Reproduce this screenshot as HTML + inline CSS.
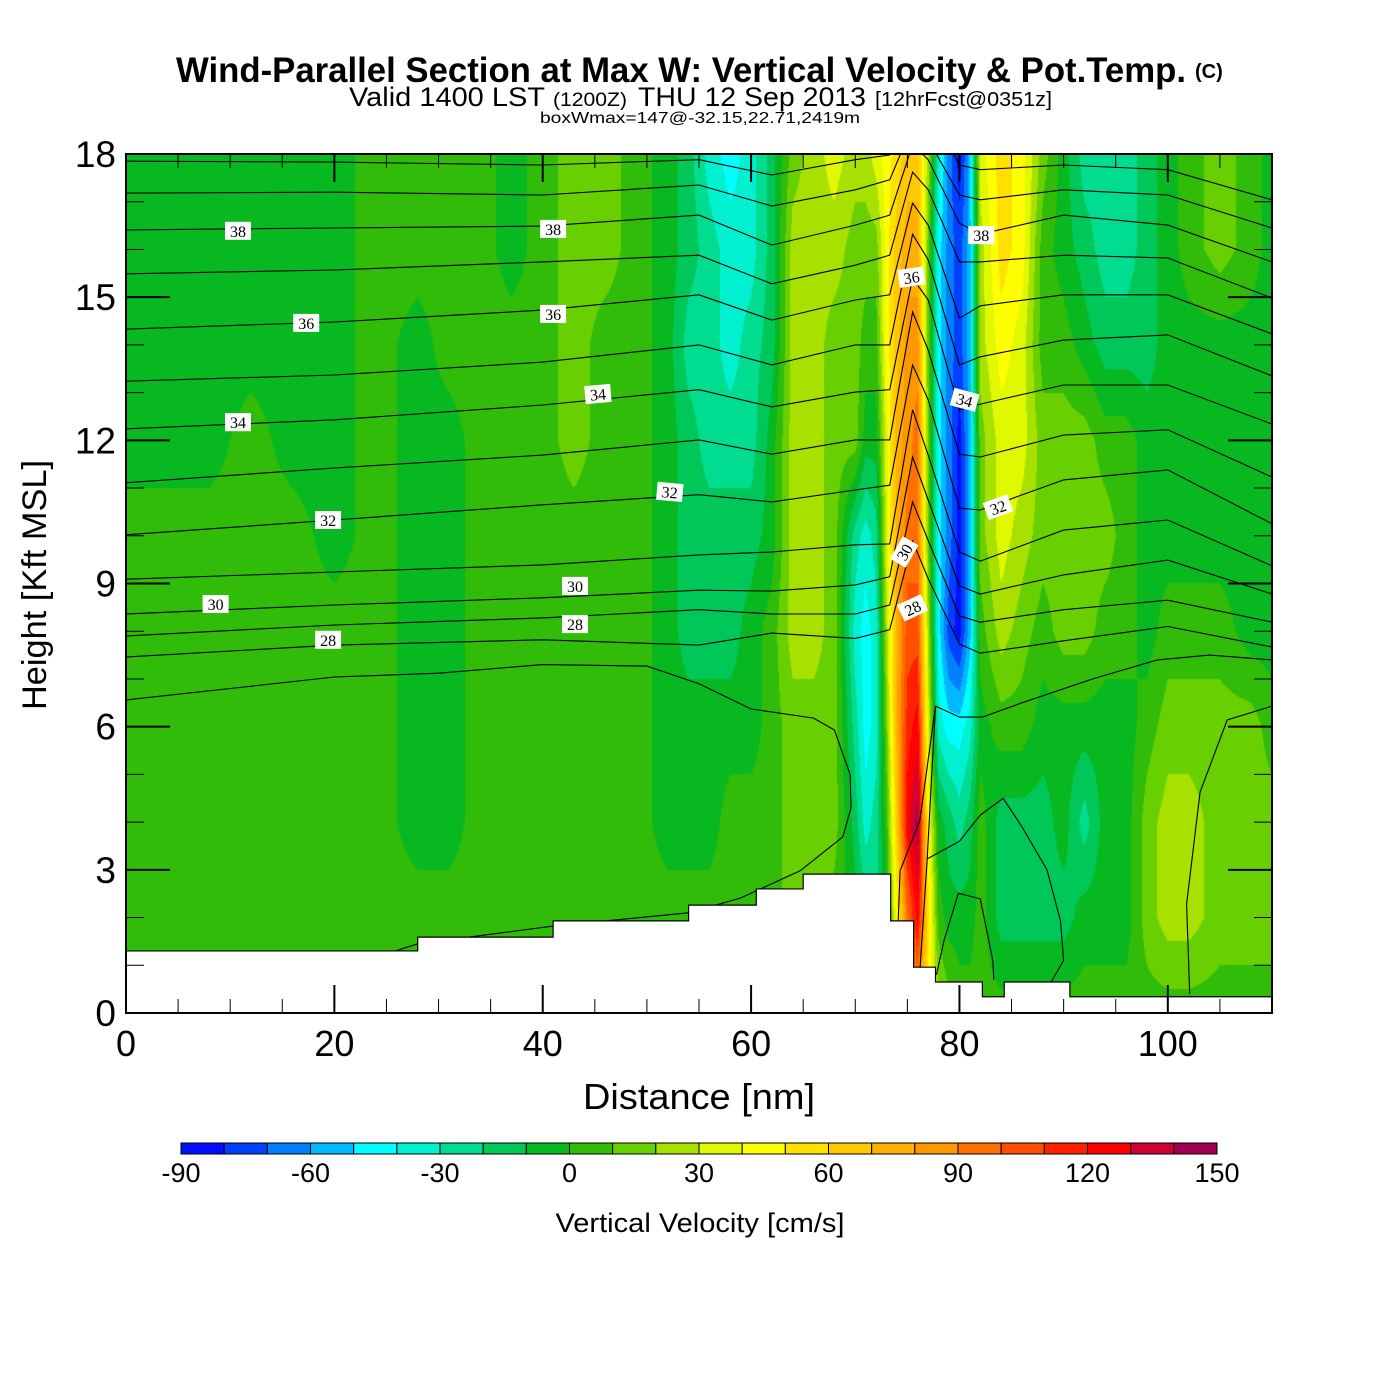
<!DOCTYPE html>
<html><head><meta charset="utf-8">
<style>
html,body{margin:0;padding:0;background:#fff;}
#wrap{position:relative;width:1400px;height:1400px;overflow:hidden;background:#fff;font-family:"Liberation Sans",sans-serif;}
#field{position:absolute;left:126px;top:154px;}
#ov{position:absolute;left:0;top:0;}
</style></head>
<body>
<div id="wrap">
<canvas id="field" width="1146" height="859"></canvas>
<svg id="ov" width="1400" height="1400" xmlns="http://www.w3.org/2000/svg">
  <defs><clipPath id="pc"><rect x="126" y="154" width="1146" height="859"/></clipPath></defs>
  <g id="contours" clip-path="url(#pc)"></g>
  <g id="terrain"></g>
  <g id="clabels"></g>
  <g id="axes"></g>
  <g id="cbar"></g>
  <g>
    <text x="176" y="82" font-size="35" font-weight="bold" textLength="1010" lengthAdjust="spacingAndGlyphs">Wind-Parallel Section at Max W: Vertical Velocity &amp; Pot.Temp.</text>
    <text x="1195" y="78" font-size="20" font-weight="bold">(C)</text>
    <text x="349" y="106" font-size="27" textLength="196" lengthAdjust="spacingAndGlyphs">Valid 1400 LST</text>
    <text x="553" y="106" font-size="19" textLength="74" lengthAdjust="spacingAndGlyphs">(1200Z)</text>
    <text x="638" y="106" font-size="27" textLength="228" lengthAdjust="spacingAndGlyphs">THU 12 Sep 2013</text>
    <text x="875" y="106" font-size="20" textLength="177" lengthAdjust="spacingAndGlyphs">[12hrFcst@0351z]</text>
    <text x="540" y="123" font-size="16" textLength="320" lengthAdjust="spacingAndGlyphs">boxWmax=147@-32.15,22.71,2419m</text>
    <text x="699" y="1109" font-size="36" text-anchor="middle" textLength="232" lengthAdjust="spacingAndGlyphs">Distance [nm]</text>
    <text transform="translate(46,585) rotate(-90)" font-size="34" text-anchor="middle" textLength="250" lengthAdjust="spacingAndGlyphs">Height [Kft MSL]</text>
    <text x="700" y="1232" font-size="27" text-anchor="middle" textLength="289" lengthAdjust="spacingAndGlyphs">Vertical Velocity [cm/s]</text>
  </g>
</svg>
</div>
<script>
// ---------- DATA ----------
const xNodes = [0,4,8,12,16,20,24,28,31,34,37,40,43,46,49,52,54,56,58,60,62,64,66,68,70,71,72,73,74,75,76,77,78,79,80,81,82,84,86,88,90,92,94,96,98,100,102,105,108,110];
const hNodes = [0,2,4,6,8,10,12,14,16,18];
// vertical velocity (cm/s) per column, bottom (0 kft) to top (18 kft)
const wValues = [
[5,5,5,5,5,5,-5,-5,-5,-5],
[5,5,5,5,5,5,-5,-5,-5,-5],
[5,5,5,5,5,5,-5,-5,-5,-5],
[5,5,5,5,5,5,5,-5,-5,-5],
[5,5,5,5,5,5,-5,-5,-5,-5],
[5,5,5,5,5,-5,-5,-5,-5,-5],
[5,5,5,5,5,5,5,5,5,5],
[5,5,-5,-5,-5,-5,-5,-5,5,5],
[5,5,-5,-5,-5,-5,-5,5,5,5],
[5,5,5,5,5,5,5,5,5,5],
[5,5,5,5,5,5,5,5,-5,-5],
[5,5,5,5,5,5,5,5,5,5],
[5,5,5,5,5,5,15,15,15,15],
[5,5,5,5,5,5,5,5,15,15],
[5,5,5,5,5,5,5,5,5,5],
[5,5,-5,-5,-5,-5,-5,-5,-5,-5],
[5,5,-5,-5,-15,-15,-15,-25,-15,-15],
[5,5,-5,-5,-15,-15,-25,-25,-25,-35],
[5,5,5,-5,-15,-15,-25,-35,-35,-45],
[5,5,5,-5,-5,-15,-25,-25,-35,-35],
[5,5,5,5,5,-5,-5,-15,-15,-15],
[5,15,15,15,25,25,25,25,25,15],
[5,15,15,15,25,25,25,25,25,25],
[5,5,15,15,15,15,15,15,25,35],
[5,-5,-15,-25,-35,-25,15,15,15,25],
[5,-15,-35,-45,-45,-35,-5,5,15,25],
[5,-25,-25,-35,-35,-25,-5,5,15,35],
[5,-5,5,15,25,35,35,45,45,45],
[15,45,65,75,75,75,75,65,65,55],
[45,95,125,115,105,95,85,85,75,65],
[75,125,145,125,105,95,95,85,75,65],
[45,55,45,35,25,15,15,15,15,25],
[25,5,-5,-35,-45,-45,-45,-45,-45,-35],
[15,-5,-15,-45,-75,-65,-65,-65,-65,-65],
[5,-5,-25,-45,-85,-85,-85,-75,-75,-85],
[5,-5,-15,-35,-55,-55,-55,-55,-55,-55],
[5,5,5,-5,5,15,15,25,25,35],
[5,-15,-15,5,25,35,35,45,55,55],
[5,-15,-15,5,15,25,35,35,45,45],
[5,-15,-15,-5,5,15,15,5,5,15],
[5,-15,-5,-5,15,15,15,5,-5,-5],
[5,-5,-25,-5,15,15,15,-5,-15,-25],
[5,-5,-5,-5,5,15,5,-15,-25,-25],
[5,-5,-5,-5,5,5,5,-15,-25,-25],
[5,15,15,5,-5,-5,-5,-15,-15,-15],
[5,25,25,15,5,-5,-5,-5,-5,-5],
[5,25,25,15,5,-5,-5,-5,5,5],
[5,15,15,15,5,-5,-5,-5,15,15],
[5,15,15,15,-5,-5,-5,-5,5,5],
[5,15,15,5,-5,-5,-5,-5,-5,-5]
];
const colorLevels = [-90,-80,-70,-60,-50,-40,-30,-20,-10,0,10,20,30,40,50,60,70,80,90,100,110,120,130,140,150];
const colorFills = ["#0010ff","#0040ff","#0080ff","#00b8ff","#00ffff","#00f0d0","#00dc90","#00c858","#08b820","#30bc08","#68d000","#a8e000","#e0f800","#ffff00","#ffe000","#ffc800","#ffb000","#ff9800","#ff7000","#ff5000","#ff2000","#ff0000","#d00030","#a00050"];
const cbarTickValues = [-90,-60,-30,0,30,60,90,120,150];
const xTickValues = [0,20,40,60,80,100];
const yTickValues = [0,3,6,9,12,15,18];
// potential temperature contours (height kft at thetaXs)
const thetaXs = [0,20,40,55,62,70,73.3,75.5,77,80,82,90,100,110];
const thetaValues = [28,29,30,31,32,33,34,35,36,37,38,39,40];
const thetaHeights = [
[7.46,7.71,7.82,7.71,7.96,7.85,8.03,9.89,9.1,7.73,7.54,7.8,8.1,7.67],
[7.90,8.13,8.28,8.45,8.36,8.36,8.55,10.71,9.9,8.32,8.19,8.45,8.65,8.19],
[8.36,8.55,8.70,8.86,8.84,8.97,9.14,11.65,10.75,8.95,8.78,9.18,9.49,8.78],
[9.09,9.24,9.39,9.60,9.66,9.81,9.83,12.64,11.69,9.66,9.47,10.12,10.33,9.37],
[10.02,10.33,10.65,10.86,10.71,10.96,11.06,13.58,12.85,10.58,10.54,11.17,11.38,10.25],
[11.11,11.42,11.69,12.01,11.71,12.01,12.01,14.69,13.89,11.71,11.65,12.11,12.22,11.23],
[12.24,12.43,12.74,13.06,12.70,13.01,13.06,15.40,14.94,12.64,12.76,13.16,13.16,12.34],
[13.24,13.37,13.64,14.00,13.58,14.00,14.00,16.32,15.78,13.58,13.75,14.10,14.21,13.35],
[14.33,14.48,14.73,15.05,14.52,14.94,15.05,16.97,16.51,14.56,14.82,15.05,15.05,14.23],
[15.49,15.57,15.74,15.88,15.28,15.67,15.88,17.62,17.25,15.74,15.74,15.88,15.82,14.98],
[16.41,16.45,16.49,16.72,16.09,16.51,16.72,18.2,17.88,16.55,16.32,16.72,16.51,15.74],
[17.18,17.20,17.14,17.35,16.91,17.25,17.46,18.6,18.3,17.14,17.04,17.25,17.14,16.45],
[17.85,17.83,17.77,17.88,17.56,17.88,17.98,19.0,19.0,17.77,17.67,17.77,17.67,17.04]
];
// theta 27 K contour (irregular shape) and other low-level loops
const theta27X = [0,10,20,30,40,50,55,60,66,68,69.5,69.6,68.8,64.7,59,54,41,28,24];
const theta27H = [6.56,6.8,7.04,7.12,7.3,7.27,6.9,6.37,6.18,5.93,5.0,4.3,3.69,2.98,2.41,2.1,1.82,1.45,1.17];
const coreLoopX = [77.7,76.2,74.3,74.1,74.2];
const coreLoopH = [6.43,4.04,2.98,1.82,1.7];
const coreInnerX = [77.7,76.9,76.2,76.1];
const coreInnerH = [6.43,3.23,0.88,0.7];
const rightLine27X = [77.7,80,82.2,86,92.8,99,104,110];
const rightLine27H = [6.43,6.2,6.2,6.5,7.0,7.4,7.5,7.4];
const loopBX = [77.8,78.5,79.9,82,83.2,83.3];
const loopBH = [0.8,1.5,2.51,2.39,1.1,0.7];
const loopCX = [76.9,80,82,84.2,86,88.4,89.7,90,88.4];
const loopCH = [3.23,3.6,4.15,4.5,3.9,3.0,1.93,1.1,0.5];
const loopDX = [102.1,101.8,103.1,105.7,110];
const loopDH = [0.4,2.28,4.63,6.14,6.43];
// contour labels
const labelText = ["38","38","38","36","36","36","34","34","34","32","32","32","30","30","30","28","28","28"];
const labelX = [10.75,41.0,82.1,17.3,41.0,75.4,10.75,45.3,80.5,19.4,52.2,83.7,8.6,43.1,74.7,19.4,43.1,75.5];
const labelH = [16.39,16.43,16.30,14.46,14.65,15.42,12.38,12.97,12.85,10.33,10.92,10.60,8.57,8.95,9.66,7.82,8.15,8.49];
const labelRot = [0,0,0,0,0,-8,0,-5,15,0,5,-20,0,0,-60,0,0,-25];
// terrain steps
const terrainX = [0,28,41,54,60.5,65,73.4,75.6,77.7,82.2,84.3,90.6,110];
const terrainH = [1.30,1.59,1.93,2.26,2.60,2.91,1.93,0.96,0.65,0.34,0.65,0.34];

// ---------- AXES ----------
const PX0=126, PY0=1013, PW=1146, PH=859, XMAX=110, HMAX=18;
function sx(x){return PX0 + x/XMAX*PW;}
function sy(h){return PY0 - h/HMAX*PH;}
const NS="http://www.w3.org/2000/svg";
function mk(tag, attrs, parent){const e=document.createElementNS(NS,tag);for(const k in attrs)e.setAttribute(k,attrs[k]);parent.appendChild(e);return e;}

// ---------- FIELD ----------
function colorFor(v){let i=Math.floor((v-colorLevels[0])/10);if(i<0)i=0;if(i>23)i=23;return colorFills[i];}
function hexRGB(h){return [parseInt(h.substr(1,2),16),parseInt(h.substr(3,2),16),parseInt(h.substr(5,2),16)];}
const rgbs = colorFills.map(hexRGB);
function wAt(x,h){
  let i=0; while(i<xNodes.length-2 && x>xNodes[i+1]) i++;
  const t=(x-xNodes[i])/(xNodes[i+1]-xNodes[i]);
  let j=Math.floor(h/2); if(j>hNodes.length-2) j=hNodes.length-2; if(j<0)j=0;
  const u=(h-hNodes[j])/(hNodes[j+1]-hNodes[j]);
  const a=wValues[i][j]*(1-t)+wValues[i+1][j]*t;
  const b=wValues[i][j+1]*(1-t)+wValues[i+1][j+1]*t;
  return a*(1-u)+b*u;
}
(function(){
  const cv=document.getElementById('field');const ctx=cv.getContext('2d');
  const img=ctx.createImageData(PW,PH);const d=img.data;
  for(let py=0;py<PH;py++){
    const h=HMAX*(1-(py+0.5)/PH);
    for(let px=0;px<PW;px++){
      const x=XMAX*(px+0.5)/PW;
      const v=wAt(x,h);
      let k=Math.floor((v-colorLevels[0])/10);if(k<0)k=0;if(k>23)k=23;
      const c=rgbs[k];const o=(py*PW+px)*4;
      d[o]=c[0];d[o+1]=c[1];d[o+2]=c[2];d[o+3]=255;
    }
  }
  ctx.putImageData(img,0,0);
})();

// ---------- CONTOURS ----------
const cg=document.getElementById('contours');
function poly(xa,ha,name){
  const pts=xa.map((x,i)=>sx(x).toFixed(1)+","+sy(ha[i]).toFixed(1)).join(" ");
  const p=mk('polyline',{points:pts,fill:'none',stroke:'#000','stroke-width':1.1},cg);
  
  
}
thetaValues.forEach((t,k)=>poly(thetaXs,thetaHeights[k],'theta-contour-'+t));
poly(theta27X,theta27H,'theta-contour-27');
poly(coreLoopX,coreLoopH,'theta-contour-core-outer');
poly(coreInnerX,coreInnerH,'theta-contour-core-inner');
poly(rightLine27X,rightLine27H,'theta-contour-27-right');
poly(loopBX,loopBH,'theta-contour-loop-b');
poly(loopCX,loopCH,'theta-contour-loop-c');
poly(loopDX,loopDH,'theta-contour-loop-d');

// ---------- TERRAIN ----------
(function(){
  const tg=document.getElementById('terrain');
  let pts=[], line=[];
  pts.push(sx(0)+","+sy(0));
  for(let i=0;i<terrainH.length;i++){
    pts.push(sx(terrainX[i])+","+sy(terrainH[i]));pts.push(sx(terrainX[i+1])+","+sy(terrainH[i]));
    line.push(sx(terrainX[i])+","+sy(terrainH[i]));line.push(sx(terrainX[i+1])+","+sy(terrainH[i]));
  }
  pts.push(sx(XMAX)+","+sy(0));
  const p=mk('polygon',{points:pts.join(" "),fill:'#fff'},tg);
  
  
  const l=mk('polyline',{points:line.join(" "),fill:'none',stroke:'#000','stroke-width':1.2},tg);
  
  
})();

// ---------- CONTOUR LABELS ----------
(function(){
  const lg=document.getElementById('clabels');
  labelText.forEach((t,i)=>{
    const x=sx(labelX[i]), y=sy(labelH[i]);
    const g=mk('g',{transform:`translate(${x.toFixed(1)},${y.toFixed(1)}) rotate(${labelRot[i]})`},lg);
    
    
    mk('rect',{x:-13,y:-9,width:26,height:18,fill:'#fff'},g);
    const tx=mk('text',{x:0,y:6,'font-size':16,'text-anchor':'middle','font-family':'Liberation Serif, serif'},g);
    tx.textContent=t;
  });
})();

// ---------- AXES ----------
(function(){
  const ag=document.getElementById('axes');
  const fr=mk('rect',{x:PX0,y:154,width:PW,height:PH,fill:'none',stroke:'#000','stroke-width':2},ag);
  
  
  for(let h=1;h<HMAX;h++){
    const major=(h%3===0); const L=major?44:18; const y=sy(h);
    mk('line',{x1:PX0,y1:y,x2:PX0+L,y2:y,stroke:'#000','stroke-width':major?2:1},ag);
    mk('line',{x1:PX0+PW,y1:y,x2:PX0+PW-L,y2:y,stroke:'#000','stroke-width':major?2:1},ag);
  }
  for(let x=5;x<XMAX;x+=5){
    const major=(x%20===0); const L=major?28:14; const X=sx(x);
    mk('line',{x1:X,y1:PY0,x2:X,y2:PY0-L,stroke:'#000','stroke-width':major?2:1},ag);
    mk('line',{x1:X,y1:154,x2:X,y2:154+L,stroke:'#000','stroke-width':major?2:1},ag);
  }
  yTickValues.forEach(v=>{
    const t=mk('text',{x:116,y:sy(v)+13,'font-size':37,'text-anchor':'end'},ag);
    
    
    t.textContent=v;
  });
  xTickValues.forEach(v=>{
    const t=mk('text',{x:sx(v),y:1056,'font-size':36,'text-anchor':'middle'},ag);
    
    
    t.textContent=v;
  });
})();

// ---------- COLORBAR ----------
(function(){
  const g=document.getElementById('cbar');
  const X0=181, X1=1217, Y=1143, H=11, n=colorFills.length, w=(X1-X0)/n;
  colorFills.forEach((c,i)=>{
    const r=mk('rect',{x:X0+i*w,y:Y,width:w,height:H,fill:c,stroke:'#000','stroke-width':1},g);
    
    
  });
  cbarTickValues.forEach(v=>{
    const t=mk('text',{x:X0+(v-colorLevels[0])/(colorLevels[n]-colorLevels[0])*(X1-X0),y:1182,'font-size':27,'text-anchor':'middle'},g);
    
    
    t.textContent=v;
  });
})();
</script>
</body></html>
